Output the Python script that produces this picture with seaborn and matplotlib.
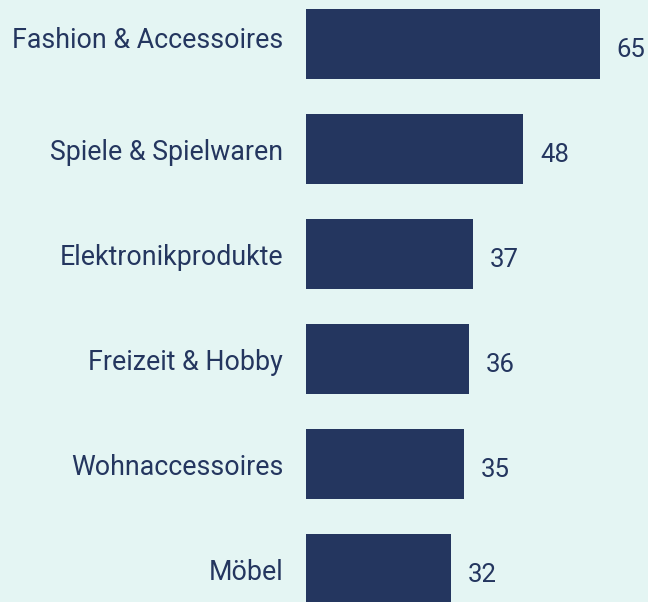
import pandas as pd
import matplotlib.pyplot as plt
import matplotlib.transforms as mtransforms
import seaborn as sns

# Data
categories = ["Fashion & Accessoires", "Spiele & Spielwaren", "Elektronikprodukte",
              "Freizeit & Hobby", "Wohnaccessoires", "Möbel"]
values = [65, 48, 37, 36, 35, 32]

df = pd.DataFrame({"category": categories, "value": values})

bg = "#e4f5f3"
navy = "#24365f"

sns.set_theme(style="white")
plt.rcParams["font.family"] = ["Roboto", "DejaVu Sans"]

fig = plt.figure(figsize=(6.48, 6.02), dpi=100, facecolor=bg)
ax = fig.add_axes([306 / 648, 0, 342 / 648, 1])
ax.set_facecolor(bg)

sns.barplot(data=df, x="value", y="category", orient="h", color=navy,
            width=0.667, saturation=1, linewidth=0, ax=ax)

ax.set_xlim(0, 342 / 4.52)
ax.set_ylim(5.314, -0.419)

# value labels to the right of each bar
for i, v in enumerate(values):
    ax.annotate(str(v), xy=(v, i), xytext=(17, -6), textcoords="offset pixels",
                ha="left", va="center", fontsize=18.5, color=navy)

ax.set_xlabel("")
ax.set_ylabel("")
ax.set_xticks([])
ax.tick_params(axis="y", length=0, pad=16.5, labelsize=19.3, labelcolor=navy)
for s in ax.spines.values():
    s.set_visible(False)

# top label sits a bit higher in the original
first = ax.get_yticklabels()[0]
first.set_transform(first.get_transform() +
                    mtransforms.ScaledTranslation(0, 6 / 100, fig.dpi_scale_trans))

fig.savefig("out.png", dpi=100, facecolor=bg)
